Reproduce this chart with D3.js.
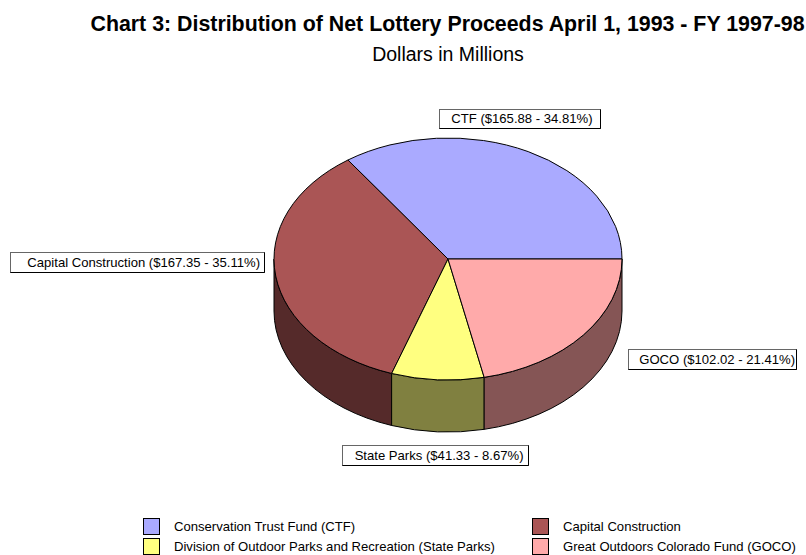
<!DOCTYPE html>
<html>
<head>
<meta charset="utf-8">
<script src="https://cdn.jsdelivr.net/npm/d3@7/dist/d3.min.js"></script>
<style>
  html, body { margin: 0; padding: 0; background: #fff; }
  svg { display: block; }
  text { font-family: "Liberation Sans", Arial, sans-serif; fill: #000; }
</style>
</head>
<body>
<svg width="806" height="555"></svg>
<script>
// chart data
var categories = ["CTF", "Capital Construction", "State Parks", "GOCO"];
var values = [165.88, 167.35, 41.33, 102.02];
var percents = ["34.81", "35.11", "8.67", "21.41"];
// slice sweeps as drawn in the picture, they drift a little from the printed percents
var drawnDegrees = [125.1, 126, 30.9, 78];
var topColors = ["#aaaaff", "#aa5555", "#ffff80", "#ffaaaa"];
var sideColors = ["#555580", "#552a2a", "#808040", "#855555"];
var legendNames = [
    "Conservation Trust Fund (CTF)",
    "Capital Construction",
    "Division of Outdoor Parks and Recreation (State Parks)",
    "Great Outdoors Colorado Fund (GOCO)"
];

// label boxes, same order as categories: left, top, right, bottom, text end
var labelBoxes = [
    [439, 109, 600, 128, 592.5],
    [10, 252, 264, 272, 260],
    [342, 445, 528, 465, 523.5],
    [628, 349, 796, 369, 795]
];

var svg = d3.select("svg");

// pie geometry
var cx = 448, cy = 259, rx = 174, ry = 121, depth = 52;

svg.append("text")
    .attr("x", 447.5)
    .attr("y", 31)
    .attr("text-anchor", "middle")
    .attr("font-size", "21.35px")
    .attr("font-weight", "bold")
    .text("Chart 3: Distribution of Net Lottery Proceeds April 1, 1993 - FY 1997-98");

svg.append("text")
    .attr("x", 448)
    .attr("y", 61)
    .attr("text-anchor", "middle")
    .attr("font-size", "19.5px")
    .text("Dollars in Millions");

// slices run counter-clockwise from 3 o'clock
var pie = d3.pie()
    .sort(null)
    .startAngle(Math.PI / 2)
    .endAngle(Math.PI / 2 - 2 * Math.PI);

var slices = pie(drawnDegrees);

// angle on the ellipse measured counter-clockwise from east
function theta(a) { return Math.PI / 2 - a; }
function px(t) { return cx + rx * Math.cos(t); }
function py(t) { return cy - ry * Math.sin(t); }

// outer wall of a slice, only the part in the front half shows
function wallPath(d) {
    var t0 = Math.max(theta(d.startAngle), Math.PI);
    var t1 = Math.min(theta(d.endAngle), 2 * Math.PI);
    if (t1 <= t0) return null;
    return "M" + px(t0) + "," + py(t0) +
        "A" + rx + "," + ry + " 0 0 0 " + px(t1) + "," + py(t1) +
        "L" + px(t1) + "," + (py(t1) + depth) +
        "A" + rx + "," + ry + " 0 0 1 " + px(t0) + "," + (py(t0) + depth) +
        "Z";
}

svg.append("g")
    .attr("class", "walls")
    .selectAll("path")
    .data(slices)
    .join("path")
    .attr("d", wallPath)
    .attr("fill", (d, i) => sideColors[i])
    .attr("stroke", "#000")
    .attr("stroke-width", 1);

var arc = d3.arc().innerRadius(0).outerRadius(rx);

svg.append("g")
    .attr("class", "tops")
    .attr("transform", `translate(${cx},${cy}) scale(1,${ry / rx})`)
    .selectAll("path")
    .data(slices)
    .join("path")
    .attr("d", arc)
    .attr("fill", (d, i) => topColors[i])
    .attr("stroke", "#000")
    .attr("stroke-width", 1)
    .attr("vector-effect", "non-scaling-stroke");

// value labels, grey on the top and left edge, black on the other two
var label = svg.append("g")
    .attr("class", "labels")
    .selectAll("g")
    .data(categories)
    .join("g");

label.append("rect")
    .attr("x", (d, i) => labelBoxes[i][0] + 0.5)
    .attr("y", (d, i) => labelBoxes[i][1] + 0.5)
    .attr("width", (d, i) => labelBoxes[i][2] - labelBoxes[i][0])
    .attr("height", (d, i) => labelBoxes[i][3] - labelBoxes[i][1])
    .attr("fill", "#fff")
    .attr("stroke", "#666");

label.append("path")
    .attr("d", function(d, i) {
        var b = labelBoxes[i];
        return `M${b[2] + 0.5},${b[1] + 0.5}V${b[3] + 0.5}H${b[0] + 0.5}`;
    })
    .attr("fill", "none")
    .attr("stroke", "#000");

label.append("text")
    .attr("x", (d, i) => labelBoxes[i][4])
    .attr("y", (d, i) => labelBoxes[i][3] - 5)
    .attr("text-anchor", "end")
    .attr("font-size", "13.1px")
    .text((d, i) => `${d} ($${values[i].toFixed(2)} - ${percents[i]}%)`);

// legend, two columns
var legend = svg.append("g")
    .attr("class", "legend")
    .selectAll("g")
    .data(legendNames)
    .join("g")
    .attr("transform", (d, i) => `translate(${i % 2 ? 532 : 143},${i < 2 ? 518 : 538})`);

legend.append("rect")
    .attr("x", 0.5)
    .attr("y", 0.5)
    .attr("width", 16)
    .attr("height", 16)
    .attr("fill", (d, i) => topColors[i])
    .attr("stroke", "#000");

legend.append("text")
    .attr("x", 31)
    .attr("y", 13)
    .attr("font-size", "13.1px")
    .text(d => d);
</script>
</body>
</html>
